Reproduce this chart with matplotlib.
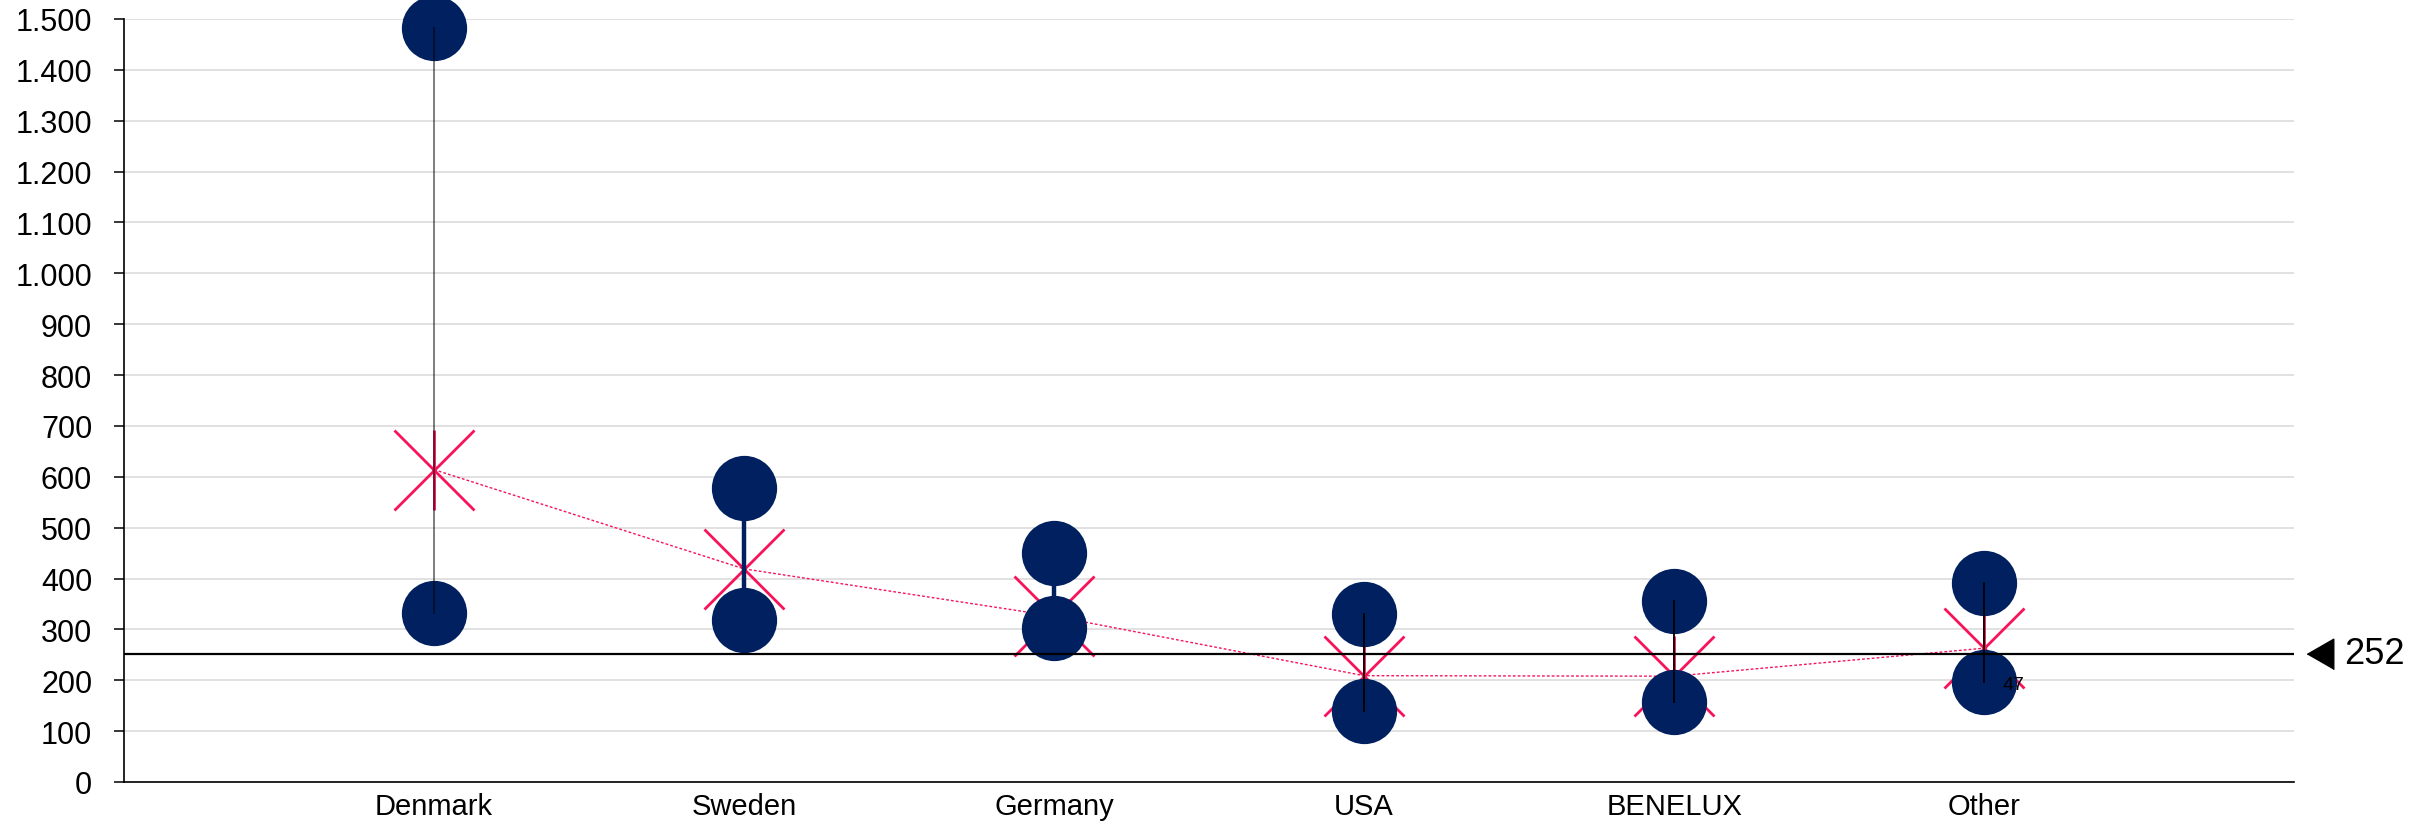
"""
Spreads per market: min / max (circles), average (X) and overall reference line
"""
import numpy as np
import matplotlib
matplotlib.use('Agg')
import matplotlib.pyplot as plt
from matplotlib.ticker import FuncFormatter, MultipleLocator

plt.rcParams['font.family'] = ['Liberation Sans', 'DejaVu Sans']

# data
categories = ['Denmark', 'Sweden', 'Germany', 'USA', 'BENELUX', 'Other']
high_values = [1482, 578, 451, 330, 356, 392]
low_values = [332, 319, 302, 140, 157, 197]
mean_values = [614, 419, 326, 209, 208, 263]
line_kind = ['grey', 'bold', 'bold', 'thin', 'thin', 'thin']
reference_value = 252
reference_label = '252'
extra_labels = {'Other': '47'}

NAVY = '#002060'
PINK = '#F5145A'

fig = plt.figure(figsize=(24.33, 8.29), dpi=100)
ax = fig.add_axes([0.051, 0.0555, 0.8919, 0.9204])

x = np.arange(1, len(categories) + 1)

# gridlines
ax.set_axisbelow(True)
ax.yaxis.grid(True, color='#D9D9D9', linewidth=1.1)

# dotted line joining the averages
ax.plot(x, mean_values, linestyle=(0, (2, 1.5)), color=PINK, linewidth=1.0, zorder=2)

# average markers: X with a vertical bar
ax.plot(x, mean_values, linestyle='none', marker='x', markersize=58,
        markeredgewidth=2.0, color=PINK, zorder=3)
ax.plot(x, mean_values, linestyle='none', marker='|', markersize=58,
        markeredgewidth=2.0, color=PINK, zorder=3)

# thick navy connectors
for xi, lo, hi, kind in zip(x, low_values, high_values, line_kind):
    if kind == 'bold':
        ax.plot([xi, xi], [lo, hi], color=NAVY, linewidth=3.2, zorder=3.5,
                solid_capstyle='butt')

# min / max circles
ax.plot(x, high_values, linestyle='none', marker='o', markersize=47,
        color=NAVY, markeredgewidth=0, zorder=4, clip_on=False)
ax.plot(x, low_values, linestyle='none', marker='o', markersize=47,
        color=NAVY, markeredgewidth=0, zorder=4, clip_on=False)

# thin connectors on top of the circles
for xi, lo, hi, kind in zip(x, low_values, high_values, line_kind):
    if kind == 'grey':
        ax.plot([xi, xi], [lo, hi], color='black', alpha=0.55, linewidth=1.3, zorder=5)
    elif kind == 'thin':
        ax.plot([xi, xi], [lo, hi], color='black', linewidth=1.3, zorder=5)

# reference line
ax.axhline(reference_value, color='black', linewidth=1.6, zorder=6)
ax.plot([7.085], [reference_value], linestyle='none',
        marker=[(-0.87, 0), (0.87, 1), (0.87, -1)], markersize=22,
        color='black', clip_on=False, zorder=6)
ax.annotate(reference_label, xy=(7, reference_value), xycoords='data',
            xytext=(36, 0), textcoords='offset points', ha='left', va='center',
            fontsize=26, annotation_clip=False)

# small value label
for name, txt in extra_labels.items():
    i = categories.index(name)
    ax.annotate(txt, xy=(x[i], low_values[i]), xytext=(13, -2),
                textcoords='offset points', ha='left', va='center', fontsize=14,
                zorder=7)

# axes
ax.set_xlim(0, 7)
ax.set_ylim(0, 1500)
ax.set_xticks(x)
ax.set_xticklabels(categories, fontsize=21)
ax.tick_params(axis='x', length=0, pad=7)
ax.yaxis.set_major_locator(MultipleLocator(100))
ax.yaxis.set_major_formatter(FuncFormatter(lambda v, p: f'{int(v):,}'.replace(',', '.')))
ax.tick_params(axis='y', labelsize=22, length=7, width=1.1, pad=16)
for side in ['top', 'right']:
    ax.spines[side].set_visible(False)
for side in ['left', 'bottom']:
    ax.spines[side].set_linewidth(1.2)
    ax.spines[side].set_color('black')

fig.savefig('out.png', dpi=100)
plt.close(fig)
